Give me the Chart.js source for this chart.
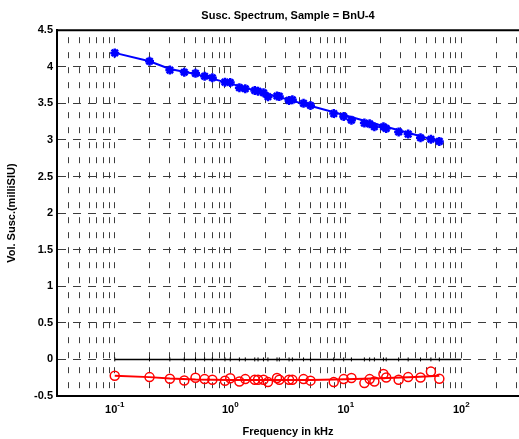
<!DOCTYPE html>
<html>
<head>
<meta charset="utf-8">
<script src="https://cdn.jsdelivr.net/npm/chart.js@4"></script>
<style>
html, body { margin: 0; padding: 0; background: #fff; overflow: hidden; }
#wrap { width: 526px; height: 439px; }
</style>
</head>
<body>
<div id="wrap"><canvas id="chart" width="526" height="439"></canvas></div>
<script>
// Susc. spectrum of sample BnU-4, log frequency axis

const freqs = [0.1, 0.2, 0.3, 0.4, 0.5, 0.6, 0.7, 0.9, 1.0, 1.2, 1.35, 1.63, 1.74, 1.94, 2.12, 2.54, 2.66,
  3.23, 3.45, 4.31, 4.95, 7.87, 9.6, 11.2, 14.5, 16.1, 17.7, 21.2, 22.4, 28.7, 34.7, 44.4, 54.6, 64.6];
const realSusc = [4.19, 4.075, 3.955, 3.925, 3.91, 3.87, 3.85, 3.79, 3.785, 3.715, 3.70, 3.675, 3.665, 3.645,
  3.59, 3.60, 3.595, 3.54, 3.55, 3.50, 3.47, 3.36, 3.32, 3.27, 3.23, 3.22, 3.18, 3.18, 3.157, 3.11, 3.08,
  3.03, 3.01, 2.98];
const imagSusc = [-0.224, -0.242, -0.265, -0.288, -0.251, -0.269, -0.279, -0.292, -0.258, -0.302, -0.269,
  -0.279, -0.279, -0.279, -0.31, -0.255, -0.279, -0.279, -0.279, -0.269, -0.29, -0.31, -0.269, -0.255,
  -0.324, -0.269, -0.302, -0.2, -0.247, -0.279, -0.242, -0.247, -0.165, -0.265];

// smoothed curves drawn through the scatter
const fitFreqs = [0.1, 0.2, 0.3, 0.5, 1, 2, 5, 10, 20, 40, 64.6];
const realFit = [4.19, 4.075, 3.97, 3.90, 3.77, 3.64, 3.465, 3.335, 3.20, 3.07, 2.98];
const imagFit = [-0.224, -0.242, -0.262, -0.276, -0.28, -0.28, -0.28, -0.272, -0.258, -0.24, -0.222];

// zero reference line
const zeroFreqs = [0.1, 100];

const xMin = Math.pow(10, -1.5), xMax = Math.pow(10, 2.5);
const yMin = -0.5, yMax = 4.5, yStep = 0.5;
const decadeTicks = [0.1, 1, 10, 100];
const decadeExps = ['-1', '0', '1', '2'];

const fontFamily = 'Arial, "Liberation Sans", Helvetica, sans-serif';
const gridColor = '#3c3c3c';

// minor grid positions 2..9 x 10^n plus decades
const xGridVals = [];
for (let e = -2; e <= 2; e++) {
  for (let m = 1; m <= 9; m++) {
    const v = m * Math.pow(10, e);
    if (v > xMin * 1.001 && v < xMax * 0.999) xGridVals.push(v);
  }
}

const pts = (xs, ys) => xs.map((x, i) => ({ x, y: ys[i] }));

// decade labels with superscript exponent + top frame line
const axisExtras = {
  id: 'axisExtras',
  afterDraw(chart) {
    const { ctx, chartArea, scales: { x } } = chart;
    ctx.save();
    ctx.strokeStyle = '#000';
    ctx.lineWidth = 2;
    ctx.beginPath();
    ctx.moveTo(chartArea.left, chartArea.top);
    ctx.lineTo(chartArea.right, chartArea.top);
    ctx.stroke();

    ctx.fillStyle = '#000';
    ctx.textBaseline = 'alphabetic';
    ctx.textAlign = 'left';
    decadeTicks.forEach((v, i) => {
      const px = x.getPixelForValue(v);
      ctx.font = 'bold 11px ' + fontFamily;
      const baseW = ctx.measureText('10').width;
      ctx.font = 'bold 8px ' + fontFamily;
      const expW = ctx.measureText(decadeExps[i]).width;
      const left = px - (baseW + expW) / 2;
      ctx.font = 'bold 11px ' + fontFamily;
      ctx.fillText('10', left, chartArea.bottom + 17);
      ctx.font = 'bold 8px ' + fontFamily;
      ctx.fillText(decadeExps[i], left + baseW, chartArea.bottom + 11);
    });
    ctx.restore();
  }
};

Chart.defaults.font.family = fontFamily;
Chart.defaults.color = '#000';

new Chart(document.getElementById('chart'), {
  type: 'scatter',
  data: {
    datasets: [
      { label: 'real', data: pts(freqs, realSusc), showLine: false,
        pointStyle: 'star', pointRadius: 4.5, borderWidth: 2.5,
        borderColor: '#0000ff', backgroundColor: '#0000ff' },
      { label: 'imag', data: pts(freqs, imagSusc), showLine: false,
        pointStyle: 'circle', pointRadius: 4.5, borderWidth: 1.5,
        borderColor: '#ff0000', backgroundColor: 'rgba(0,0,0,0)' },
      { label: 'real fit', data: pts(fitFreqs, realFit), showLine: true,
        pointRadius: 0, borderWidth: 2, borderColor: '#0000ff' },
      { label: 'imag fit', data: pts(fitFreqs, imagFit), showLine: true,
        pointRadius: 0, borderWidth: 2, borderColor: '#ff0000' },
      { label: 'zero', data: pts(zeroFreqs, zeroFreqs.map(() => 0)), showLine: true,
        pointRadius: 0, borderWidth: 1.5, borderColor: '#000' },
      { label: 'zero marks', data: pts(freqs, freqs.map(() => 0)), showLine: false,
        pointStyle: 'line', rotation: 90, pointRadius: 2, borderWidth: 1, borderColor: '#000' }
    ]
  },
  options: {
    responsive: false,
    animation: false,
    layout: { padding: { left: 0, right: 2, top: 0, bottom: 0 } },
    plugins: {
      legend: { display: false },
      tooltip: { enabled: false },
      title: {
        display: true,
        text: 'Susc. Spectrum, Sample = BnU-4',
        fullSize: false,
        color: '#000',
        font: { size: 11, weight: 'bold' },
        padding: { top: 9, bottom: 8 }
      }
    },
    scales: {
      x: {
        type: 'logarithmic',
        min: xMin,
        max: xMax,
        afterBuildTicks: (s) => { s.ticks = xGridVals.map(v => ({ value: v })); },
        afterFit: (s) => { s.height = 43; },
        ticks: { display: false },
        grid: { color: gridColor, lineWidth: 1, drawTicks: false },
        border: { display: true, color: '#000', width: 2, dash: [6, 9], dashOffset: -7 },
        title: {
          display: true,
          text: 'Frequency in kHz',
          color: '#000',
          font: { size: 11, weight: 'bold' },
          padding: { top: 0, bottom: 0 }
        }
      },
      y: {
        min: yMin,
        max: yMax,
        afterFit: (s) => { s.width = 57; },
        ticks: {
          stepSize: yStep,
          padding: 4,
          color: '#000',
          font: { size: 11, weight: 'bold' },
          callback: (v) => String(Math.round(v * 10) / 10)
        },
        grid: { color: gridColor, lineWidth: 1, drawTicks: false },
        border: { display: true, color: '#000', width: 2, dash: [8, 7] },
        title: {
          display: true,
          text: 'Vol. Susc.(milliSIU)',
          color: '#000',
          font: { size: 11, weight: 'bold' },
          padding: { top: 5, bottom: 0 }
        }
      }
    }
  },
  plugins: [axisExtras]
});
</script>
</body>
</html>
